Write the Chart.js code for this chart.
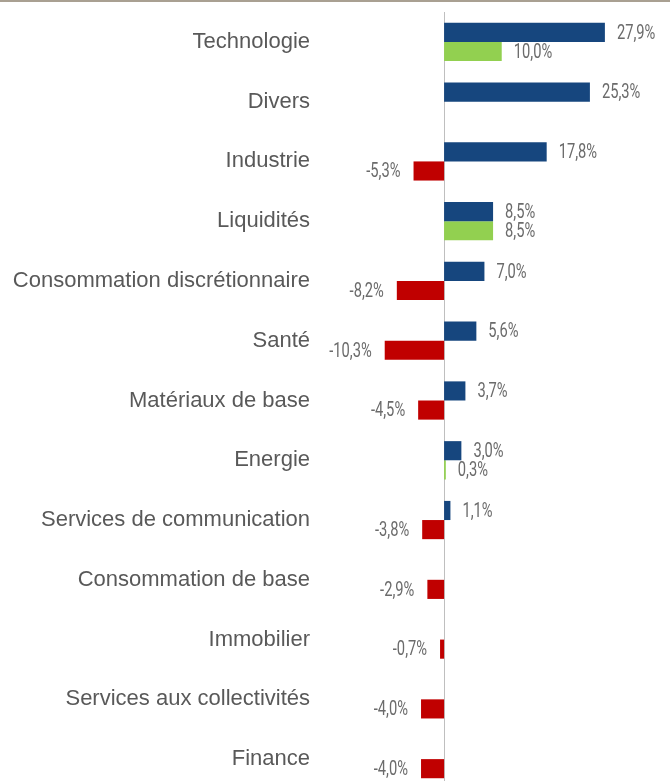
<!DOCTYPE html>
<html>
<head>
<meta charset="utf-8">
<script src="https://cdn.jsdelivr.net/npm/chart.js@4"></script>
<style>
  html, body { margin: 0; padding: 0; background: #fff; overflow: hidden; }
  #wrap { position: relative; width: 670px; height: 800px; }
  #topline { position: absolute; left: 0; top: 0; width: 670px; height: 2px; background: #a9a092; }
</style>
</head>
<body>
<div id="wrap">
  <canvas id="chart" width="670" height="800"></canvas>
  <div id="topline"></div>
</div>
<script>
// secteurs
const categories = [
  'Technologie', 'Divers', 'Industrie', 'Liquidités',
  'Consommation discrétionnaire', 'Santé', 'Matériaux de base', 'Energie',
  'Services de communication', 'Consommation de base', 'Immobilier',
  'Services aux collectivités', 'Finance'
];
// 1re série (bleu)
const seriesA = [27.9, 25.3, 17.8, 8.5, 7.0, 5.6, 3.7, 3.0, 1.1, null, null, null, null];
// 2e série (vert si positif, rouge si négatif)
const seriesB = [10.0, null, -5.3, 8.5, -8.2, -10.3, -4.5, 0.3, -3.8, -2.9, -0.7, -4.0, -4.0];

const BLUE = '#16467e';
const GREEN = '#92d050';
const RED = '#c00000';

function fmt(v) {
  return v.toFixed(1).replace('.', ',') + '%';
}

// trait vertical du zéro
const zeroLine = {
  id: 'zeroLine',
  beforeDatasetsDraw(chart) {
    const { ctx, chartArea, scales } = chart;
    const x = Math.round(scales.x.getPixelForValue(0)) + 0.5;
    ctx.save();
    ctx.strokeStyle = '#bfbfbf';
    ctx.lineWidth = 1;
    ctx.beginPath();
    ctx.moveTo(x, chartArea.top);
    ctx.lineTo(x, chartArea.bottom);
    ctx.stroke();
    ctx.restore();
  }
};

// étiquettes de valeurs (police étroite)
const valueLabels = {
  id: 'valueLabels',
  afterDatasetsDraw(chart) {
    const ctx = chart.ctx;
    ctx.save();
    ctx.font = '21px Roboto, "Liberation Sans", sans-serif';
    ctx.fillStyle = '#6b6b6b';
    ctx.textBaseline = 'middle';
    chart.data.datasets.forEach((ds, i) => {
      const meta = chart.getDatasetMeta(i);
      meta.data.forEach((bar, j) => {
        const v = ds.data[j];
        if (v === null || v === undefined) return;
        ctx.save();
        if (v >= 0) {
          ctx.translate(bar.x + 12, bar.y + 1);
          ctx.textAlign = 'left';
        } else {
          ctx.translate(bar.x - 13, bar.y + 1);
          ctx.textAlign = 'right';
        }
        ctx.scale(0.7, 1);
        ctx.fillText(fmt(v), 0, 0);
        ctx.restore();
      });
    });
    ctx.restore();
  }
};

new Chart(document.getElementById('chart'), {
  type: 'bar',
  data: {
    labels: categories,
    datasets: [
      {
        data: seriesA,
        backgroundColor: BLUE,
        categoryPercentage: 0.64,
        barPercentage: 1
      },
      {
        data: seriesB,
        backgroundColor: c => (c.raw >= 0 ? GREEN : RED),
        categoryPercentage: 0.64,
        barPercentage: 1
      }
    ]
  },
  options: {
    indexAxis: 'y',
    responsive: false,
    animation: false,
    layout: { padding: { top: 12, right: 53, bottom: 0, left: 0 } },
    plugins: {
      legend: { display: false },
      tooltip: { enabled: false }
    },
    scales: {
      x: {
        display: false,
        min: -21.875,
        max: 30
      },
      y: {
        afterFit: s => { s.width = 318; },
        grid: { display: false },
        border: { display: false },
        ticks: {
          color: '#595959',
          padding: 0,
          font: { family: '"Liberation Sans", Arial, sans-serif', size: 22, lineHeight: 1 }
        }
      }
    }
  },
  plugins: [zeroLine, valueLabels]
});
</script>
</body>
</html>
